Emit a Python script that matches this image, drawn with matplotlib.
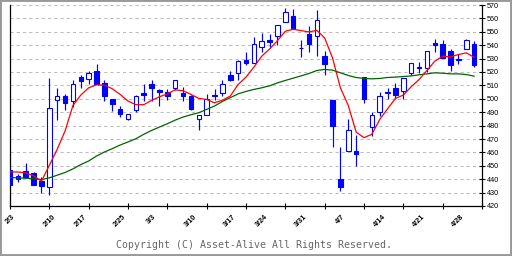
import matplotlib
matplotlib.use("Agg")
import matplotlib.pyplot as plt
from matplotlib.patches import Rectangle
import numpy as np

# ---- data ----
opens = [446.7, 442.2, 446.4, 444.4, 438.5, 434.5, 499.3, 502.3, 498.3, 516.4,
         514.7, 521.1, 511.7, 499.5, 492.1, 485.1, 491.6, 504.7, 510.7, 506.5,
         505.0, 508.0, 504.7, 501.8, 485.1, 488.1, 503.0, 504.5, 517.4, 519.4,
         528.6, 526.8, 538.5, 544.2, 546.9, 557.3, 562.1, 538.2, 548.7, 547.2,
         532.3, 498.8, 440.5, 461.0, 461.3, 515.9, 479.2, 490.3, 504.6, 508.2,
         506.0, 519.6, 523.8, 522.9, 542.0, 541.2, 536.0, 530.0, 537.0, 541.0]
highs = [447.2, 444.2, 451.9, 445.4, 442.0, 515.2, 507.7, 503.3, 514.4, 518.1,
         520.6, 526.3, 513.7, 499.8, 495.0, 488.9, 502.5, 511.4, 514.4, 507.0,
         507.5, 513.7, 508.5, 502.8, 488.1, 503.3, 507.5, 514.4, 521.1, 529.3,
         534.8, 546.4, 549.2, 548.7, 555.4, 567.8, 567.3, 544.2, 554.6, 566.5,
         535.3, 499.0, 463.8, 484.6, 472.7, 516.4, 490.3, 505.2, 508.2, 511.9,
         515.2, 527.0, 527.3, 535.8, 544.9, 544.2, 537.5, 533.5, 544.7, 543.4]
lows = [435.8, 438.0, 441.5, 435.8, 429.8, 428.0, 484.1, 491.6, 493.6, 507.7,
        510.7, 510.7, 498.3, 490.8, 486.6, 484.1, 490.1, 498.5, 498.3, 494.6,
        499.0, 506.7, 498.3, 491.6, 476.7, 488.1, 499.0, 502.0, 513.4, 514.4,
        525.1, 526.8, 534.8, 537.7, 540.0, 557.3, 551.9, 531.0, 534.8, 531.8,
        517.4, 464.0, 431.3, 461.0, 449.9, 496.8, 472.2, 487.1, 499.5, 499.5,
        500.0, 517.6, 519.4, 519.9, 534.8, 530.8, 520.6, 526.0, 537.0, 523.6]
closes = [435.8, 440.2, 441.5, 435.8, 435.0, 493.3, 502.3, 496.8, 511.2, 513.2,
          519.6, 511.4, 502.0, 496.0, 488.6, 488.9, 501.8, 502.8, 507.7, 505.0,
          502.0, 513.7, 501.8, 492.6, 488.1, 500.0, 502.0, 511.2, 513.9, 528.3,
          526.6, 541.0, 543.2, 542.7, 555.4, 564.8, 551.9, 537.8, 541.0, 558.8,
          526.3, 479.7, 434.3, 476.9, 458.8, 499.8, 487.9, 502.3, 505.0, 502.5,
          515.2, 526.8, 522.9, 535.8, 540.0, 530.8, 525.1, 528.6, 544.2, 525.1]
ma_short = [445.4, 445.4, 444.7, 442.5, 438.5, 450.4, 462.3, 476.0, 495.0, 502.8,
            508.2, 510.4, 510.2, 507.5, 503.3, 498.3, 495.6, 495.6, 498.8, 501.5,
            503.7, 506.7, 506.0, 503.3, 500.3, 499.5, 497.0, 499.0, 502.0, 510.7,
            516.2, 523.6, 531.8, 537.2, 543.4, 550.4, 551.9, 550.9, 549.9, 551.1,
            545.4, 530.5, 508.2, 495.0, 475.2, 471.0, 473.5, 484.6, 492.6, 500.3,
            502.8, 509.0, 514.4, 521.1, 528.1, 531.8, 531.3, 533.0, 534.3, 531.0]
ma_long = [441.2, 441.0, 440.7, 440.5, 439.7, 441.0, 443.0, 445.0, 447.7, 450.9,
           453.6, 457.3, 460.3, 462.8, 465.5, 467.8, 470.2, 473.5, 476.4, 478.9,
           481.4, 484.1, 486.4, 488.1, 489.6, 492.1, 494.6, 498.0, 500.8, 503.7,
           505.5, 507.0, 508.2, 509.7, 511.9, 513.7, 515.4, 517.1, 518.9, 521.1,
           521.9, 521.4, 519.4, 517.4, 515.9, 515.2, 514.9, 515.2, 515.9, 516.2,
           516.6, 517.1, 517.9, 518.6, 519.4, 519.1, 518.6, 518.6, 518.1, 516.9]
date_labels = ['2/3', '2/10', '2/17', '2/25', '3/3', '3/10', '3/17', '3/24',
               '3/31', '4/7', '4/14', '4/21', '4/28']
date_index = [0, 5, 9, 14, 18, 23, 28, 32, 37, 42, 47, 52, 57]
y_ticks = list(range(420, 571, 10))

BLUE = '#0000ff'

fig = plt.figure(figsize=(5.12, 2.56), dpi=100)
fig.patch.set_facecolor('white')
ax = fig.add_axes([10 / 512, 50 / 256, 472 / 512, 201 / 256])

x = np.arange(len(opens))
o = np.array(opens); c = np.array(closes)
up = c >= o
ax.vlines(x, lows, highs, color=BLUE, linewidth=0.85, zorder=2)
height = np.where(np.abs(c - o) < 0.3, 0.3, c - o)
faces = ['white' if u else BLUE for u in up]
ax.bar(x, height, bottom=o, width=0.58, color=faces, edgecolor=BLUE,
       linewidth=0.8, zorder=3)

ax.plot(x, ma_long, color='#006400', linewidth=0.9, zorder=4)
ax.plot(x, ma_short, color='#ff0000', linewidth=0.9, zorder=5)

ax.set_xlim(0, 60)
ax.set_ylim(420, 570)

ax.set_xticks(np.arange(0, 61, 5))
ax.set_xticklabels([])
ax.tick_params(axis='x', which='major', direction='inout', length=4.5,
               width=0.8, color='black')
for lab, i in zip(date_labels, date_index):
    ax.annotate(lab, xy=(i, 0), xycoords=('data', 'axes fraction'),
                xytext=(0, -7), textcoords='offset pixels',
                rotation=45, ha='center', va='top', fontsize=5.3,
                fontweight='bold', family='Liberation Sans',
                annotation_clip=False)

ax.yaxis.tick_right()
ax.set_yticks(y_ticks)
ax.set_yticklabels([str(v) for v in y_ticks], fontsize=5.2,
                   family='Liberation Sans')
ax.tick_params(axis='y', direction='inout', length=5, width=0.8,
               color='black', pad=1)

ax.yaxis.grid(True, color='#bcbcbc', linestyle=(0, (3, 3)), linewidth=0.75)
ax.set_axisbelow(True)

ax.spines['top'].set_visible(False)
for s in ['left', 'right', 'bottom']:
    ax.spines[s].set_linewidth(0.9)
    ax.spines[s].set_color('black')

fig.text(254.5 / 512, 1 - 245 / 256, 'Copyright (C) Asset-Alive All Rights Reserved.',
         ha='center', va='center', fontsize=7.1, color='#666666',
         family='DejaVu Sans Mono')

fig.patches.append(Rectangle((0, 0), 1, 1, transform=fig.transFigure,
                             fill=False, edgecolor='#999999', linewidth=2.8))

fig.savefig('out.png', dpi=100)
